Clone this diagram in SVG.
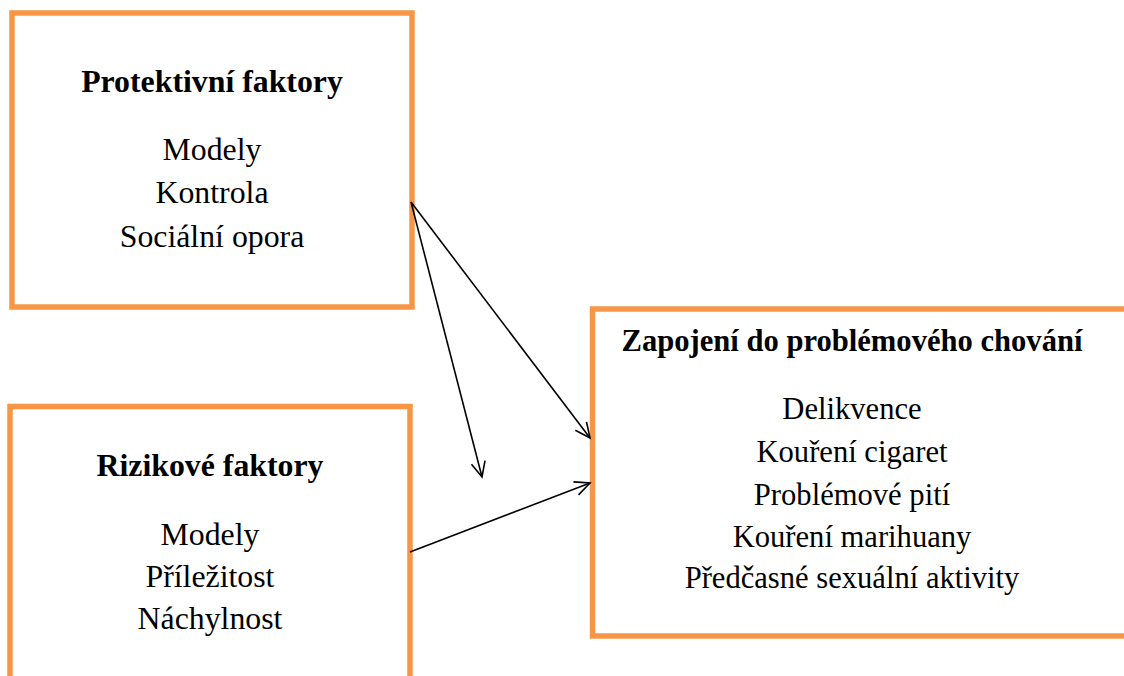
<svg xmlns="http://www.w3.org/2000/svg" width="1124" height="676" viewBox="0 0 1124 676">
<defs>
<style>
.box{fill:#fff;stroke:#F79646;stroke-width:5.5}
.t{font-family:"Liberation Serif","Times New Roman",serif;font-size:31.8px;fill:#000;text-anchor:middle}
.s{font-size:30.6px}
.b{font-weight:bold}
.c{stroke:#000;stroke-width:1.6;fill:none}
</style>
<marker id="arr" markerWidth="20" markerHeight="20" refX="16" refY="8" orient="auto" markerUnits="userSpaceOnUse" viewBox="0 0 20 16">
<polyline points="1,1 16,8 1,15" fill="none" stroke="#000" stroke-width="1.6"/>
</marker>
</defs>
<rect width="1124" height="676" fill="#fff"/>
<g id="protektivni">
<rect class="box" x="12" y="13" width="400" height="294"/>
<text class="t b" x="212" y="92">Protektivní faktory</text>
<text class="t" x="212" y="160">Modely</text>
<text class="t" x="212" y="203">Kontrola</text>
<text class="t" x="212" y="247">Sociální opora</text>
</g>
<g id="rizikove">
<rect class="box" x="10" y="406.5" width="400" height="300"/>
<text class="t b" x="210" y="476">Rizikové faktory</text>
<text class="t" x="210" y="545">Modely</text>
<text class="t" x="210" y="587">Příležitost</text>
<text class="t" x="210" y="629">Náchylnost</text>
</g>
<g id="zapojeni">
<rect class="box" x="592.5" y="309" width="600" height="327"/>
<text class="t s b" x="852" y="351">Zapojení do problémového chování</text>
<text class="t s" x="852" y="419">Delikvence</text>
<text class="t s" x="852" y="462">Kouření cigaret</text>
<text class="t s" x="852" y="505">Problémové pití</text>
<text class="t s" x="852" y="547">Kouření marihuany</text>
<text class="t s" x="852" y="588">Předčasné sexuální aktivity</text>
</g>
<g id="connectors">
<line class="c" x1="411" y1="202" x2="590" y2="438" marker-end="url(#arr)"/>
<line class="c" x1="411" y1="202" x2="482" y2="477" marker-end="url(#arr)"/>
<line class="c" x1="410" y1="552" x2="590" y2="483" marker-end="url(#arr)"/>
</g>
</svg>
